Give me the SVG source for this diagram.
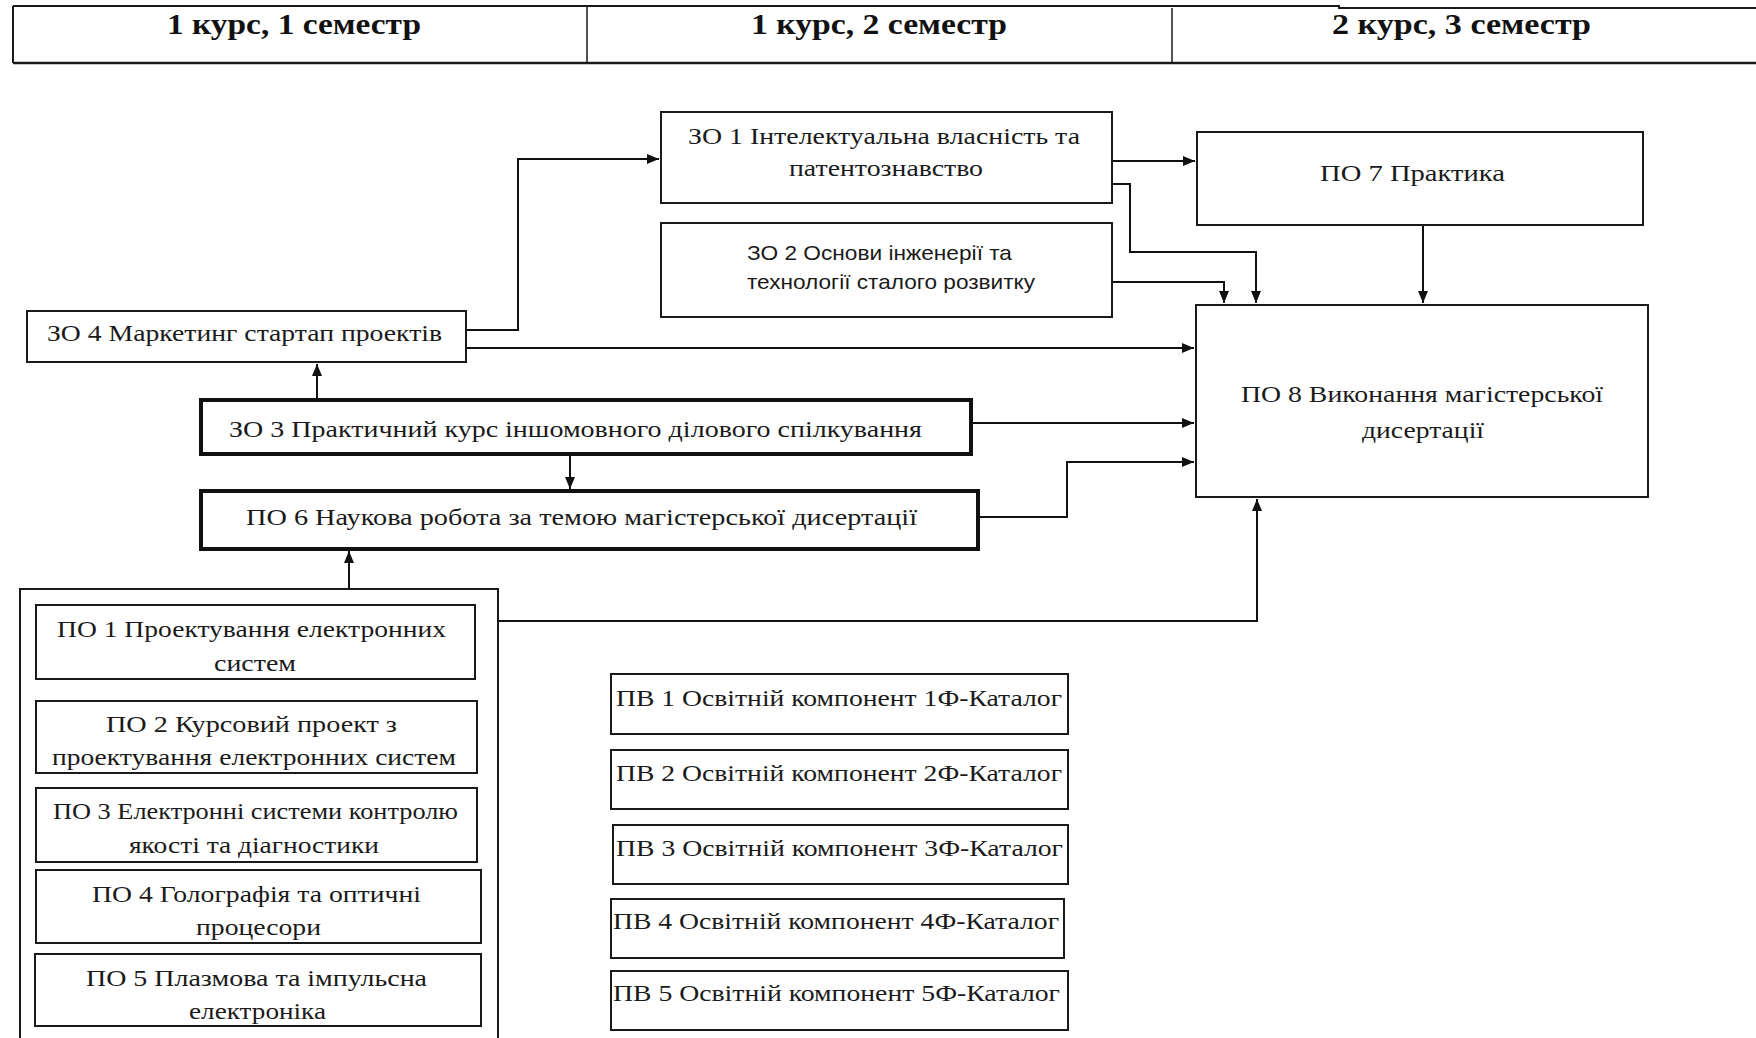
<svg xmlns="http://www.w3.org/2000/svg" width="1756" height="1038" viewBox="0 0 1756 1038">
<style>
.bg{fill:#ffffff}
.box{fill:#ffffff;stroke:#1a1a1a;stroke-width:2}
.thick{fill:#ffffff;stroke:#111111;stroke-width:4}
.hline{fill:none;stroke:#1a1a1a;stroke-width:2}
.vline{fill:none;stroke:#1a1a1a;stroke-width:1.5}
.con{fill:none;stroke:#111111;stroke-width:2;marker-end:url(#arr)}
.plain{fill:none;stroke:#111111;stroke-width:2}
.hd{font-family:"Liberation Serif","Times New Roman",serif;font-weight:bold;font-size:30px;fill:#111111}
.t{font-family:"Liberation Serif","Times New Roman",serif;font-size:23px;fill:#1a1a1a}
.s{font-family:"Liberation Sans",Arial,sans-serif;font-size:21px;fill:#1a1a1a}
</style>
<defs>
<marker id="arr" markerUnits="userSpaceOnUse" markerWidth="13" markerHeight="10" refX="12" refY="5" orient="auto">
<path d="M0,0 L12,5 L0,10 z" fill="#111111"/>
</marker>
</defs>
<rect class="bg" x="0" y="0" width="1756" height="1038"/>

<g id="header">
<path class="hline" d="M13,6 H1339 V8 H1756"/>
<path class="hline" d="M13,63 H1756" style="stroke-width:2.5"/>
<path class="hline" d="M13,6 V63"/>
<path class="vline" d="M587,6 V63"/>
<path class="vline" d="M1172,8 V63"/>
<text class="hd" x="167" y="34" textLength="254" lengthAdjust="spacingAndGlyphs">1 курс, 1 семестр</text>
<text class="hd" x="751" y="34" textLength="256" lengthAdjust="spacingAndGlyphs">1 курс, 2 семестр</text>
<text class="hd" x="1332" y="34" textLength="259" lengthAdjust="spacingAndGlyphs">2 курс, 3 семестр</text>
</g>

<g id="connectors">
<path class="con" d="M466,330 H518 V159 H659"/>
<path class="con" d="M466,348 H1194"/>
<path class="con" d="M317,400 V364"/>
<path class="con" d="M570,456 V489"/>
<path class="con" d="M971,423 H1194"/>
<path class="con" d="M978,517 H1067 V462 H1194"/>
<path class="con" d="M349,589 V551"/>
<path class="con" d="M498,621 H1257 V499"/>
<path class="con" d="M1112,161 H1195"/>
<path class="con" d="M1112,184 H1130 V252 H1256 V303"/>
<path class="con" d="M1112,282 H1224 V303"/>
<path class="con" d="M1423,225 V303"/>
<path class="con" d="M237,679 V699"/>
<path class="con" d="M270,701 V681"/>
</g>

<g id="zo1">
<rect class="box" x="661" y="112" width="451" height="91"/>
<text class="t" x="688" y="144" textLength="392" lengthAdjust="spacingAndGlyphs">ЗО 1 Інтелектуальна власність та</text>
<text class="t" x="789" y="176" textLength="194" lengthAdjust="spacingAndGlyphs">патентознавство</text>
</g>

<g id="zo2">
<rect class="box" x="661" y="223" width="451" height="94"/>
<text class="s" x="747" y="260" textLength="265" lengthAdjust="spacingAndGlyphs">ЗО 2 Основи інженерії та</text>
<text class="s" x="747" y="289" textLength="288" lengthAdjust="spacingAndGlyphs">технології сталого розвитку</text>
</g>

<g id="po7">
<rect class="box" x="1197" y="132" width="446" height="93"/>
<text class="t" x="1320" y="181" textLength="185" lengthAdjust="spacingAndGlyphs">ПО 7 Практика</text>
</g>

<g id="po8">
<rect class="box" x="1196" y="305" width="452" height="192"/>
<text class="t" x="1241" y="402" textLength="362" lengthAdjust="spacingAndGlyphs">ПО 8 Виконання магістерської</text>
<text class="t" x="1362" y="438" textLength="122" lengthAdjust="spacingAndGlyphs">дисертації</text>
</g>

<g id="zo4">
<rect class="box" x="27" y="311" width="439" height="51"/>
<text class="t" x="47" y="341" textLength="395" lengthAdjust="spacingAndGlyphs">ЗО 4 Маркетинг стартап проектів</text>
</g>

<g id="zo3">
<rect class="thick" x="201" y="400" width="770" height="54"/>
<text class="t" x="229" y="437" textLength="693" lengthAdjust="spacingAndGlyphs">ЗО 3 Практичний курс іншомовного ділового спілкування</text>
</g>

<g id="po6">
<rect class="thick" x="201" y="491" width="777" height="58"/>
<text class="t" x="246" y="525" textLength="671" lengthAdjust="spacingAndGlyphs">ПО 6 Наукова робота за темою магістерської дисертації</text>
</g>

<g id="group-po1-po5">
<path class="box" d="M20,1040 V589 H498 V1040"/>
</g>

<g id="po1">
<rect class="box" x="36" y="605" width="439" height="74"/>
<text class="t" x="57" y="637" textLength="389" lengthAdjust="spacingAndGlyphs">ПО 1 Проектування електронних</text>
<text class="t" x="214" y="671" textLength="82" lengthAdjust="spacingAndGlyphs">систем</text>
</g>

<g id="po2">
<rect class="box" x="36" y="701" width="441" height="72"/>
<text class="t" x="106" y="732" textLength="291" lengthAdjust="spacingAndGlyphs">ПО 2 Курсовий проект з</text>
<text class="t" x="52" y="765" textLength="404" lengthAdjust="spacingAndGlyphs">проектування електронних систем</text>
</g>

<g id="po3">
<rect class="box" x="36" y="788" width="441" height="74"/>
<text class="t" x="53" y="819" textLength="405" lengthAdjust="spacingAndGlyphs">ПО 3 Електронні системи контролю</text>
<text class="t" x="129" y="853" textLength="250" lengthAdjust="spacingAndGlyphs">якості та діагностики</text>
</g>

<g id="po4">
<rect class="box" x="36" y="870" width="445" height="73"/>
<text class="t" x="92" y="902" textLength="329" lengthAdjust="spacingAndGlyphs">ПО 4 Голографія та оптичні</text>
<text class="t" x="196" y="935" textLength="125" lengthAdjust="spacingAndGlyphs">процесори</text>
</g>

<g id="po5">
<rect class="box" x="35" y="954" width="446" height="72"/>
<text class="t" x="86" y="986" textLength="341" lengthAdjust="spacingAndGlyphs">ПО 5 Плазмова та імпульсна</text>
<text class="t" x="189" y="1019" textLength="137" lengthAdjust="spacingAndGlyphs">електроніка</text>
</g>

<g id="pv1">
<rect class="box" x="611" y="674" width="457" height="60"/>
<text class="t" x="616" y="706" textLength="446" lengthAdjust="spacingAndGlyphs">ПВ 1 Освітній компонент 1Ф-Каталог</text>
</g>
<g id="pv2">
<rect class="box" x="611" y="750" width="457" height="59"/>
<text class="t" x="616" y="781" textLength="446" lengthAdjust="spacingAndGlyphs">ПВ 2 Освітній компонент 2Ф-Каталог</text>
</g>
<g id="pv3">
<rect class="box" x="613" y="825" width="455" height="59"/>
<text class="t" x="616" y="856" textLength="447" lengthAdjust="spacingAndGlyphs">ПВ 3 Освітній компонент 3Ф-Каталог</text>
</g>
<g id="pv4">
<rect class="box" x="611" y="899" width="453" height="59"/>
<text class="t" x="613" y="929" textLength="446" lengthAdjust="spacingAndGlyphs">ПВ 4 Освітній компонент 4Ф-Каталог</text>
</g>
<g id="pv5">
<rect class="box" x="611" y="971" width="457" height="59"/>
<text class="t" x="613" y="1001" textLength="447" lengthAdjust="spacingAndGlyphs">ПВ 5 Освітній компонент 5Ф-Каталог</text>
</g>
</svg>
